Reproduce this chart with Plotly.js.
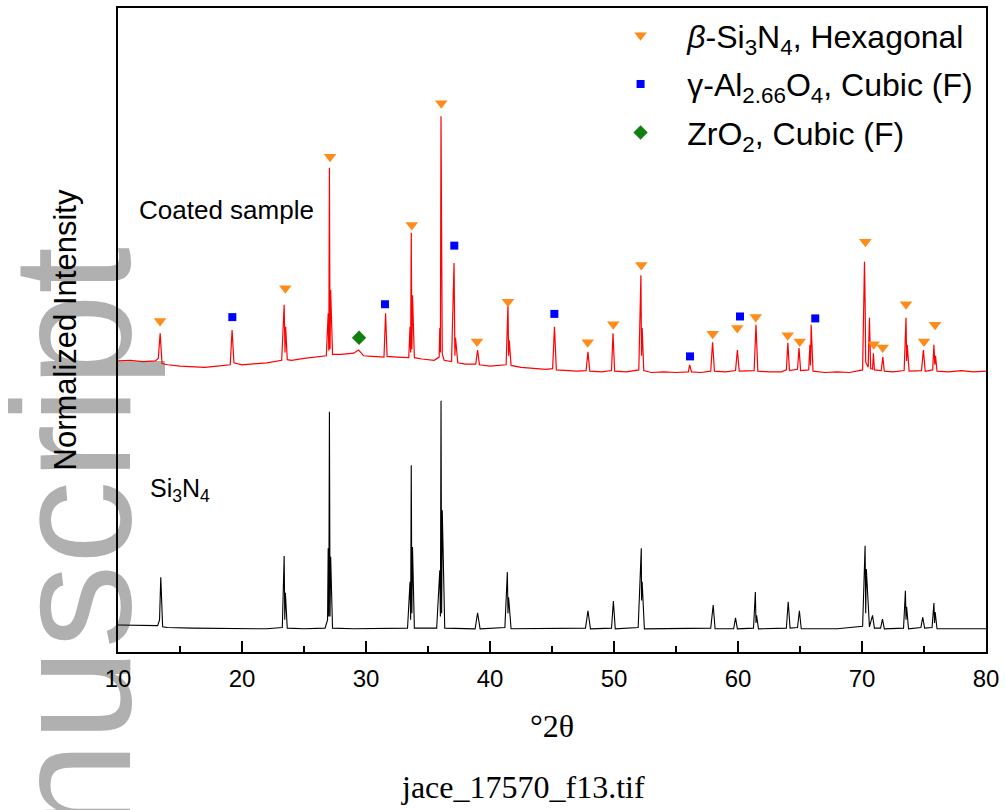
<!DOCTYPE html>
<html>
<head>
<meta charset="utf-8">
<script src="https://cdn.plot.ly/plotly-3.0.1.min.js"></script>
<style>
  html, body { margin: 0; padding: 0; background: #ffffff; }
  #wrap { position: relative; width: 1005px; height: 810px; overflow: hidden; }
  #wm { position: absolute; left: 0; top: 0; z-index: 0; }
  #chart { position: absolute; left: 0; top: 0; width: 1005px; height: 810px; z-index: 1; }
</style>
</head>
<body>
<div id="wrap">
  <svg id="wm" width="1005" height="810">
    <text id="wmtext" transform="translate(130,247) rotate(-90)" text-anchor="end"
      font-family="Liberation Sans, Arial, sans-serif" font-size="168" fill="#b0b0b0">Manuscript</text>
  </svg>
  <div id="chart"></div>
</div>
<script>
// ---- Coated sample pattern (red) ----
const coatedX = [10, 11, 12, 13.0, 13.25, 13.4, 13.55, 14, 15, 16, 17, 18, 19.05, 19.2, 19.35, 20, 21, 22,
  23.2, 23.4, 23.47, 23.52, 23.65, 24, 25, 26, 26.8, 26.95, 27.0, 27.05, 27.1, 27.15, 27.3, 28, 29, 29.4, 29.8,
  30.5, 31.45, 31.58, 31.7, 32.5, 33.45, 33.55, 33.6, 33.65, 33.7, 33.75, 33.9, 34.5, 35.5, 35.9, 35.95, 36.0,
  36.05, 36.1, 36.15, 36.3, 36.9, 37.1, 37.17, 37.22, 37.4, 38, 38.85, 39.0, 39.15, 40, 41.3, 41.45, 41.5, 41.55,
  41.7, 42.5, 43.5, 44.5, 45.05, 45.2, 45.35, 46, 47, 47.75, 47.9, 48.05, 49, 49.8, 49.92, 50.05, 51, 52.0, 52.17,
  52.22, 52.27, 52.4, 53, 54, 55, 56.0, 56.1, 56.25, 57, 57.8, 57.95, 58.1, 59, 59.8, 59.95, 60.1, 61.3, 61.45,
  61.6, 62.5, 63.5, 63.9, 64.02, 64.15, 64.8, 64.92, 65.05, 65.7, 65.8, 65.85, 65.9, 66.05, 67, 68, 69, 70.05,
  70.2, 70.25, 70.3, 70.5, 70.6, 70.7, 70.85, 70.92, 71.0, 71.55, 71.68, 71.8, 72.5, 73.4, 73.55, 73.6, 73.65,
  73.8, 74.8, 74.95, 75.1, 75.7, 75.8, 75.87, 75.93, 76.05, 77, 78, 79, 80];
const coatedY = [45.2, 45.3, 45.1, 45.2, 45.6, 49.5, 44.8, 44.6, 44.4, 44.3, 44.2, 44.4, 44.6, 50.0, 44.9, 44.6, 44.8, 44.9,
  45.3, 53.9, 46.5, 50.5, 45.4, 45.3, 45.6, 45.8, 46.0, 52.6, 46.8, 75.2, 47.0, 56.2, 46.2, 46.2, 46.4, 46.9, 46.0,
  45.9, 45.8, 52.6, 45.9, 45.8, 45.7, 50.5, 46.5, 65.1, 47.0, 55.4, 45.7, 45.5, 45.3, 45.8, 50.3, 46.5,
  83.2, 63.7, 46.3, 45.3, 45.1, 60.4, 46.0, 48.8, 44.9, 44.7, 44.7, 46.9, 44.6, 44.4, 44.6, 53.9, 46.0, 48.4,
  44.5, 44.2, 44.0, 43.9, 44.0, 50.5, 43.8, 43.7, 43.6, 43.7, 46.6, 43.6, 43.5, 43.7, 49.5, 43.6, 43.5, 43.8, 58.5,
  46.0, 50.3, 43.7, 43.4, 43.5, 43.4, 43.5, 44.6, 43.5, 43.4, 43.6, 48.1, 43.6, 43.5, 43.7, 46.9, 43.6, 43.7, 50.8,
  43.6, 43.5, 43.5, 43.8, 48.0, 43.7, 43.9, 47.2, 43.7, 43.8, 47.7, 44.5, 50.8, 43.6, 43.4, 43.5, 43.4, 43.8,
  60.6, 54.3, 45.0, 44.2, 51.9, 44.0, 43.9, 46.4, 43.8, 43.7, 45.8, 43.6, 43.5, 43.7, 51.9, 45.2, 47.7,
  43.6, 43.7, 46.9, 43.6, 43.8, 47.7, 44.6, 46.0, 43.6, 43.5, 43.7, 43.5, 43.6];

// ---- Si3N4 pattern (black) ----
const si3n4X = [10, 11, 12, 13.2, 13.35, 13.45, 13.6, 14, 16, 18, 20, 22, 23.25, 23.4, 23.45, 23.5, 23.65, 25,
  26.7, 26.9, 26.95, 27.0, 27.05, 27.1, 27.15, 27.3, 29, 31, 33.35, 33.55, 33.6, 33.65, 33.7, 33.75, 33.9, 35.7,
  35.95, 36.0, 36.05, 36.1, 36.15, 36.35, 38.8, 39.0, 39.2, 41.2, 41.4, 41.45, 41.5, 41.7, 44, 47.7, 47.9, 48.1,
  49.8, 49.95, 50.1, 51.95, 52.2, 52.22, 52.27, 52.45, 55, 57.8, 58.0, 58.15, 59.65, 59.8, 59.95, 61.25, 61.4,
  61.45, 61.5, 61.65, 63.9, 64.05, 64.2, 64.8, 64.95, 65.1, 68, 70.05, 70.25, 70.3, 70.35, 70.45, 70.6, 70.85,
  71.0, 71.5, 71.65, 71.8, 73.35, 73.5, 73.55, 73.6, 73.75, 74.75, 74.9, 75.05, 75.65, 75.8, 75.85, 75.9, 76.05,
  78, 80];
const si3n4Y = [4.2, 4.2, 4.1, 4.1, 5.0, 11.6, 3.9, 3.8, 3.7, 3.7, 3.6, 3.6, 3.8, 14.9, 5.0, 9.2, 3.7, 3.6,
  3.7, 5.0, 16.1, 5.5, 37.3, 5.5, 14.8, 3.7, 3.6, 3.6, 3.7, 10.9, 5.0, 29.0, 6.0, 16.3, 3.7, 3.7,
  12.7, 5.5, 39.0, 6.0, 22.0, 3.7, 3.6, 6.1, 3.6, 3.8, 12.4, 6.0, 8.5, 3.6, 3.6, 3.7, 6.4, 3.6,
  3.7, 7.9, 3.6, 3.8, 16.1, 8.0, 10.9, 3.6, 3.6, 3.7, 7.3, 3.6, 3.6, 5.3, 3.6, 3.7, 9.3,
  4.5, 5.7, 3.6, 3.7, 7.8, 3.7, 3.8, 6.4, 3.6, 3.6, 4.0, 16.5, 6.0, 12.9, 9.8, 3.9, 5.7,
  3.7, 3.7, 5.1, 3.6, 3.7, 9.5, 5.0, 7.0, 3.6, 3.8, 5.4, 3.7, 3.8, 7.6, 4.5, 6.2, 3.6,
  3.6, 3.6];

// ---- Phase markers ----
const betaX = [13.39, 23.49, 27.10, 33.69, 36.07, 38.95, 41.45, 47.88, 49.94, 52.20, 57.96, 59.94, 61.43, 64.01,
  64.98, 70.27, 70.94, 71.67, 73.55, 75.00, 75.89];
const betaY = [51.4, 56.5, 76.9, 66.3, 85.2, 48.2, 54.4, 48.1, 50.9, 60.1, 49.4, 50.3, 52.0, 49.2,
  48.2, 63.7, 47.8, 47.3, 54.0, 48.2, 50.8];
const gammaX = [19.22, 31.53, 37.12, 45.19, 56.13, 60.16, 66.23];
const gammaY = [52.0, 54.0, 63.1, 52.5, 45.9, 52.1, 51.8];
const zrX = [29.44];
const zrY = [48.8];

const legendNames = [
  '\u00a0\u00a0\u00a0<i>β</i>-Si<sub>3</sub>N<sub>4</sub>, Hexagonal',
  '\u00a0\u00a0\u00a0γ-Al<sub>2.66</sub>O<sub>4</sub>, Cubic (F)',
  '\u00a0\u00a0\u00a0ZrO<sub>2</sub>, Cubic (F)'
];
const xTicks = [10, 20, 30, 40, 50, 60, 70, 80];

const traces = [
  {x: coatedX, y: coatedY, mode: 'lines', line: {color: '#ff0000', width: 1.2}, showlegend: false, hoverinfo: 'skip'},
  {x: si3n4X, y: si3n4Y, mode: 'lines', line: {color: '#000000', width: 1.1}, showlegend: false, hoverinfo: 'skip'},
  {x: betaX, y: betaY, mode: 'markers', name: legendNames[0], legendgroup: 'a',
   marker: {symbol: 'triangle-down', size: 11, color: '#ff8c1a'}},
  {x: gammaX, y: gammaY, mode: 'markers', name: legendNames[1], legendgroup: 'b',
   marker: {symbol: 'square', size: 8, color: '#0000ff'}},
  {x: zrX, y: zrY, mode: 'markers', name: legendNames[2], legendgroup: 'c',
   marker: {symbol: 'diamond', size: 11, color: '#108010'}}
];

const layout = {
  width: 1005, height: 810,
  margin: {l: 118, r: 19, t: 8, b: 158},
  paper_bgcolor: 'rgba(0,0,0,0)',
  plot_bgcolor: 'rgba(0,0,0,0)',
  font: {family: 'Liberation Sans, Arial, sans-serif', color: '#000'},
  showlegend: true,
  legend: {x: 0.579, xanchor: 'left', y: 1.0, yanchor: 'top', bgcolor: 'rgba(0,0,0,0)',
           font: {size: 32, family: 'Liberation Sans, Arial, sans-serif'}, tracegroupgap: 4},
  xaxis: {
    range: [10, 80], tickvals: xTicks, ticktext: xTicks.map(String),
    ticks: 'inside', ticklen: 11, tickwidth: 2, tickcolor: '#000',
    minor: {dtick: 5, tick0: 10, ticks: 'inside', ticklen: 6, tickwidth: 2, tickcolor: '#000', showgrid: false},
    showline: true, linewidth: 2, linecolor: '#000', mirror: true,
    showgrid: false, zeroline: false,
    tickfont: {size: 24, family: 'Liberation Sans, Arial, sans-serif'},
    ticklabelstandoff: 4,
    title: {text: '°2θ', font: {size: 32, family: 'Liberation Serif, Times New Roman, serif'}, standoff: 24}
  },
  yaxis: {
    range: [0, 100], showticklabels: false, ticks: '',
    showline: true, linewidth: 2, linecolor: '#000', mirror: true,
    showgrid: false, zeroline: false,
    title: {text: 'Normalized Intensity', font: {size: 31, family: 'Liberation Sans, Arial, sans-serif'}, standoff: 30}
  },
  annotations: [
    {text: 'Coated sample', xref: 'x', yref: 'y', x: 11.5, y: 68.6, xanchor: 'left', yanchor: 'middle',
     showarrow: false, font: {size: 26, family: 'Liberation Sans, Arial, sans-serif', color: '#000'}},
    {text: 'Si<sub>3</sub>N<sub>4</sub>', xref: 'x', yref: 'y', x: 12.42, y: 25.2, xanchor: 'left', yanchor: 'middle',
     showarrow: false, font: {size: 25, family: 'Liberation Sans, Arial, sans-serif', color: '#000'}},
    {text: 'jace_17570_f13.tif', xref: 'paper', yref: 'paper', x: 0.4666, y: -0.2096, xanchor: 'center', yanchor: 'middle',
     showarrow: false, font: {size: 32, family: 'Liberation Serif, Times New Roman, serif', color: '#000'}}
  ]
};

Plotly.newPlot('chart', traces, layout, {displayModeBar: false, staticPlot: true});
</script>
</body>
</html>
